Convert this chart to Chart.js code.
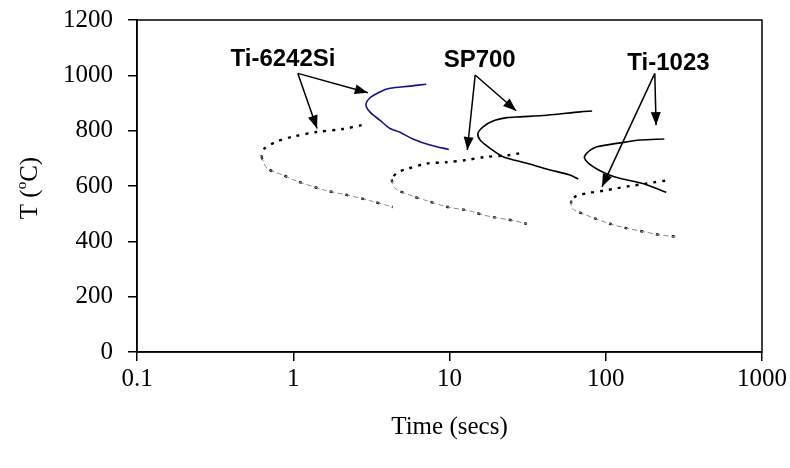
<!DOCTYPE html>
<html>
<head>
<meta charset="utf-8">
<script src="https://cdn.jsdelivr.net/npm/chart.js@4.4.1/dist/chart.umd.min.js"></script>
<style>
  html, body { margin: 0; padding: 0; background: #fff; }
  #wrap { width: 790px; height: 468px; }
</style>
</head>
<body>
<div id="wrap"><canvas id="ttt-chart" width="790" height="468"></canvas></div>
<script>
// axis ticks
const xTicks = [0.1, 1, 10, 100, 1000];
const xTickLabels = ["0.1", "1", "10", "100", "1000"];

// Ti-6242Si: solid start curve, dotted finish curve (upper / lower branch)
const ti6242SolidTime = [7.1, 5.58, 4.16, 3.58, 3.09, 2.92, 3.09, 3.58, 4.16, 4.82, 5.83, 7.5, 9.9];
const ti6242SolidTemp = [968, 961, 953, 940, 918, 893, 868, 838, 808, 794, 770, 748, 732];
const ti6242UpperTime = [2.74, 2.08, 1.41, 0.99, 0.78, 0.656, 0.625];
const ti6242UpperTemp = [820, 806, 795, 778, 760, 736, 706];
const ti6242LowerTime = [0.625, 0.68, 0.857, 1.05, 1.59, 2.11, 3.09, 4.33];
const ti6242LowerTemp = [706, 664, 640, 618, 585, 570, 547, 524];

// SP700
const sp700SolidTime = [81.8, 68.7, 42, 28.3, 23.3, 19.0, 16.4, 15.2, 15.7, 18.2, 22.0, 31.3, 44, 59, 66.7];
const sp700SolidTemp = [871, 868, 856, 850, 847, 835, 814, 790, 766, 736, 706, 682, 658, 640, 625];
const sp700UpperTime = [27.9, 24.5, 16.4, 12.9, 9.6, 7.1, 5.3, 4.6, 4.26];
const sp700UpperTemp = [718, 712, 704, 694, 686, 681, 661, 648, 624];
const sp700LowerTime = [4.26, 4.47, 5.58, 7.14, 9.6, 13.5, 16.5, 20.1, 25.7, 31.3];
const sp700LowerTemp = [624, 592, 567, 547, 525, 510, 495, 485, 475, 463];

// Ti-1023
const ti1023SolidTime = [237, 166, 124, 88, 79.6, 74, 73.2, 77.6, 90, 112, 137, 184, 244];
const ti1023SolidTemp = [770, 766, 756, 742, 730, 712, 700, 682, 658, 634, 622, 604, 577];
const ti1023UpperTime = [240, 202, 175, 143, 118, 97, 80, 65, 60];
const ti1023UpperTemp = [619, 613, 607, 600, 592, 583, 576, 564, 547];
const ti1023LowerTime = [60, 60.7, 72, 88, 107, 137, 175, 223, 279];
const ti1023LowerTemp = [547, 519, 499, 480, 463, 447, 435, 423, 417];

// alloy labels and their arrows (time, temperature)
const labelNames = ["Ti-6242Si", "SP700", "Ti-1023"];
const labelTime = [0.86, 15.6, 252];
const labelTemp = [1034, 1030, 1019];
const arrowFromTime = [1.07, 14.6, 206];
const arrowFromTemp = [1007, 1001, 1007];
const arrowToTime = [[3.0, 1.42], [26.7, 13.0], [210, 94.6]];
const arrowToTemp = [[937, 808], [872, 730], [820, 597]];

const serif = "'Liberation Serif', 'Times New Roman', serif";
const sans = "'Liberation Sans', Arial, sans-serif";

function toPoints(times, temps) {
  return times.map((t, i) => ({ x: t, y: temps[i] }));
}

function solid(times, temps, color) {
  return {
    data: toPoints(times, temps),
    borderColor: color,
    borderWidth: 1.6,
    pointRadius: 0,
    tension: 0.3,
    fill: false
  };
}

function dottedUpper(times, temps) {
  return {
    data: toPoints(times, temps),
    borderColor: "#000",
    borderWidth: 2.4,
    borderDash: [3, 6],
    pointRadius: 0,
    tension: 0.3,
    fill: false
  };
}

function dashedLower(times, temps) {
  return {
    data: toPoints(times, temps),
    borderColor: "#8a8a8a",
    borderWidth: 1,
    borderDash: [5, 3],
    pointRadius: 0,
    tension: 0.3,
    fill: false
  };
}

function dotsLower(times, temps) {
  return {
    data: toPoints(times, temps),
    borderColor: "#000",
    borderWidth: 2.4,
    borderDash: [3, 13],
    pointRadius: 0,
    tension: 0.3,
    fill: false
  };
}

// box around the plot area
const frame = {
  id: "frame",
  afterDraw(chart) {
    const { ctx, chartArea: a } = chart;
    ctx.save();
    ctx.strokeStyle = "#000";
    ctx.lineWidth = 1.5;
    ctx.strokeRect(a.left, a.top, a.right - a.left, a.bottom - a.top);
    ctx.restore();
  }
};

// y axis title with a superscript degree mark
const yTitle = {
  id: "yTitle",
  afterDraw(chart) {
    const ctx = chart.ctx;
    const cx = 30, cy = 188;
    ctx.save();
    ctx.translate(cx, cy);
    ctx.rotate(-Math.PI / 2);
    ctx.fillStyle = "#000";
    ctx.textBaseline = "middle";
    const a = "T (", b = "C)";
    ctx.font = "15px " + serif;
    const wo = ctx.measureText("o").width;
    ctx.font = "25px " + serif;
    const wa = ctx.measureText(a).width;
    const wb = ctx.measureText(b).width;
    let x = -(wa + wo + wb) / 2;
    ctx.fillText(a, x, 0);
    x += wa;
    ctx.font = "15px " + serif;
    ctx.fillText("o", x, -8);
    x += wo;
    ctx.font = "25px " + serif;
    ctx.fillText(b, x, 0);
    ctx.restore();
  }
};

function arrowHead(ctx, x0, y0, x1, y1) {
  const ang = Math.atan2(y1 - y0, x1 - x0);
  const len = 13, half = 5;
  ctx.beginPath();
  ctx.moveTo(x1, y1);
  ctx.lineTo(x1 - len * Math.cos(ang) + half * Math.sin(ang), y1 - len * Math.sin(ang) - half * Math.cos(ang));
  ctx.lineTo(x1 - len * Math.cos(ang) - half * Math.sin(ang), y1 - len * Math.sin(ang) + half * Math.cos(ang));
  ctx.closePath();
  ctx.fill();
}

// alloy names with arrows pointing at their curves
const labels = {
  id: "alloyLabels",
  afterDatasetsDraw(chart) {
    const { ctx, scales: { x, y } } = chart;
    ctx.save();
    ctx.fillStyle = "#000";
    ctx.strokeStyle = "#000";
    ctx.lineWidth = 1.5;
    ctx.font = "bold 24px " + sans;
    ctx.textAlign = "center";
    ctx.textBaseline = "alphabetic";
    labelNames.forEach((name, i) => {
      ctx.fillText(name, x.getPixelForValue(labelTime[i]), y.getPixelForValue(labelTemp[i]));
      const x0 = x.getPixelForValue(arrowFromTime[i]);
      const y0 = y.getPixelForValue(arrowFromTemp[i]);
      arrowToTime[i].forEach((t, j) => {
        const x1 = x.getPixelForValue(t);
        const y1 = y.getPixelForValue(arrowToTemp[i][j]);
        ctx.beginPath();
        ctx.moveTo(x0, y0);
        ctx.lineTo(x1, y1);
        ctx.stroke();
        arrowHead(ctx, x0, y0, x1, y1);
      });
    });
    ctx.restore();
  }
};

const ctx = document.getElementById("ttt-chart").getContext("2d");

new Chart(ctx, {
  type: "line",
  data: {
    datasets: [
      dashedLower(ti6242LowerTime, ti6242LowerTemp),
      dotsLower(ti6242LowerTime, ti6242LowerTemp),
      dottedUpper(ti6242UpperTime, ti6242UpperTemp),
      solid(ti6242SolidTime, ti6242SolidTemp, "#141485"),
      dashedLower(sp700LowerTime, sp700LowerTemp),
      dotsLower(sp700LowerTime, sp700LowerTemp),
      dottedUpper(sp700UpperTime, sp700UpperTemp),
      solid(sp700SolidTime, sp700SolidTemp, "#000"),
      dashedLower(ti1023LowerTime, ti1023LowerTemp),
      dotsLower(ti1023LowerTime, ti1023LowerTemp),
      dottedUpper(ti1023UpperTime, ti1023UpperTemp),
      solid(ti1023SolidTime, ti1023SolidTemp, "#000")
    ]
  },
  options: {
    responsive: false,
    animation: false,
    layout: { padding: { top: 20, right: 27, bottom: 0, left: 0 } },
    plugins: {
      legend: { display: false },
      tooltip: { enabled: false }
    },
    scales: {
      x: {
        type: "logarithmic",
        min: 0.1,
        max: 1000,
        afterBuildTicks: s => { s.ticks = xTicks.map(v => ({ value: v })); },
        afterFit: s => { s.height = 116; },
        ticks: {
          callback: (v, i) => xTickLabels[i],
          autoSkip: false,
          maxRotation: 0,
          color: "#000",
          padding: 3,
          font: { family: serif, size: 25 }
        },
        grid: { drawOnChartArea: false, tickLength: 9, color: "#000", lineWidth: 1.5 },
        border: { color: "#000", width: 1.5 },
        title: {
          display: true,
          text: "Time (secs)",
          color: "#000",
          font: { family: serif, size: 25 },
          padding: { top: 0, bottom: 26 }
        }
      },
      y: {
        min: 0,
        max: 1200,
        afterFit: s => { s.width = 137; s.paddingTop = 0; s.paddingBottom = 0; },
        ticks: {
          stepSize: 200,
          callback: v => String(v),
          color: "#000",
          padding: 15,
          font: { family: serif, size: 25 }
        },
        grid: { drawOnChartArea: false, tickLength: 9, color: "#000", lineWidth: 1.5 },
        border: { color: "#000", width: 1.5 }
      }
    }
  },
  plugins: [frame, yTitle, labels]
});
</script>
</body>
</html>
